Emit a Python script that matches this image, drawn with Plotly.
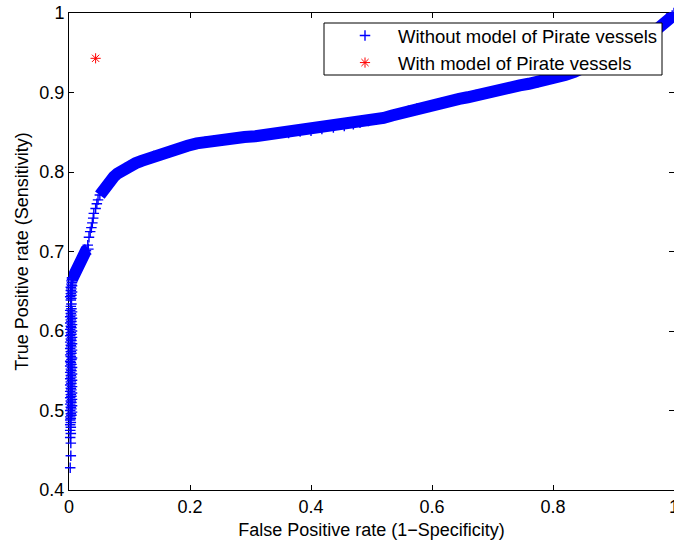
import plotly.graph_objects as go

# ---- data (False positive rate, True positive rate) ----
# sparse crosses at the bottom of the vertical part
fpr_low = [0.002, 0.003, 0.003, 0.002, 0.003, 0.002, 0.003, 0.002, 0.003, 0.002]
tpr_low = [0.428, 0.443, 0.459, 0.466, 0.471, 0.475, 0.479, 0.482, 0.485, 0.488]

# dense vertical part (points almost on top of each other)
fpr_vert = [0.003, 0.002, 0.004, 0.003, 0.005, 0.002, 0.004, 0.003, 0.005, 0.002,
            0.004, 0.003, 0.005, 0.002, 0.004, 0.003, 0.005, 0.002, 0.004, 0.003,
            0.005, 0.002, 0.004, 0.003, 0.005, 0.002, 0.004, 0.003, 0.005, 0.002,
            0.004, 0.003, 0.005, 0.002, 0.004, 0.003, 0.002, 0.004, 0.005, 0.003,
            0.002, 0.004, 0.003, 0.005, 0.002, 0.004, 0.003, 0.005, 0.002, 0.004,
            0.003, 0.005, 0.002, 0.004, 0.003, 0.005, 0.002, 0.004, 0.003, 0.005,
            0.002, 0.004, 0.003, 0.005, 0.002, 0.004, 0.003, 0.005, 0.002, 0.004]
tpr_vert = [0.490, 0.492, 0.494, 0.496, 0.498, 0.500, 0.502, 0.504, 0.506, 0.508,
            0.510, 0.512, 0.514, 0.516, 0.518, 0.520, 0.522, 0.524, 0.526, 0.528,
            0.530, 0.532, 0.534, 0.536, 0.538, 0.540, 0.542, 0.544, 0.546, 0.548,
            0.550, 0.552, 0.554, 0.556, 0.558, 0.560, 0.562, 0.564, 0.566, 0.568,
            0.570, 0.572, 0.574, 0.576, 0.578, 0.580, 0.582, 0.584, 0.586, 0.588,
            0.590, 0.592, 0.594, 0.596, 0.598, 0.600, 0.602, 0.604, 0.606, 0.608,
            0.610, 0.612, 0.614, 0.616, 0.618, 0.620, 0.622, 0.624, 0.626, 0.628]

# isolated crosses in the small gap
fpr_gap = [0.003, 0.004]
tpr_gap = [0.631, 0.634]

# dense bottom of the knee
fpr_knee_low = [0.003, 0.004, 0.002, 0.004, 0.003, 0.005, 0.003, 0.004, 0.003, 0.005,
                0.004, 0.005, 0.004, 0.006, 0.005]
tpr_knee_low = [0.639, 0.641, 0.643, 0.645, 0.647, 0.649, 0.651, 0.653, 0.655, 0.657,
                0.659, 0.661, 0.663, 0.665, 0.667]

# dense knee
fpr_knee = [0.005, 0.006, 0.008, 0.011, 0.013, 0.015, 0.017, 0.019, 0.022, 0.025,
            0.028, 0.032]
tpr_knee = [0.665, 0.667, 0.669, 0.673, 0.677, 0.681, 0.685, 0.689, 0.693, 0.697,
            0.701, 0.703]

# sparse climb
fpr_climb = [0.031, 0.033, 0.035, 0.037, 0.0386, 0.040, 0.041, 0.044, 0.046, 0.048]
tpr_climb = [0.708, 0.718, 0.725, 0.730, 0.736, 0.742, 0.748, 0.754, 0.760, 0.765]

# dense upper curve
fpr_upper = [0.051, 0.056, 0.060, 0.064, 0.069, 0.074, 0.080, 0.086, 0.093, 0.100,
             0.110, 0.120, 0.130, 0.140, 0.150, 0.160, 0.170, 0.183, 0.196, 0.211,
             0.225, 0.240, 0.255, 0.272, 0.290, 0.308, 0.327, 0.345, 0.363, 0.382,
             0.400, 0.418, 0.437, 0.455, 0.470, 0.481, 0.495, 0.508, 0.520, 0.534,
             0.548, 0.561, 0.575, 0.589, 0.603, 0.617, 0.631, 0.645, 0.659, 0.673,
             0.686, 0.700, 0.715, 0.730, 0.745, 0.760, 0.775, 0.790, 0.805, 0.820,
             0.835, 0.850, 0.865, 0.880, 0.895, 0.910, 0.925, 0.940, 0.950, 0.960,
             0.968, 0.975, 0.980, 0.985, 0.989, 0.993, 0.997, 1.000]
tpr_upper = [0.771, 0.777, 0.782, 0.786, 0.790, 0.794, 0.798, 0.801, 0.805, 0.808,
             0.811, 0.814, 0.817, 0.820, 0.822, 0.825, 0.827, 0.830, 0.833, 0.836,
             0.838, 0.840, 0.841, 0.842, 0.844, 0.845, 0.847, 0.848, 0.849, 0.851,
             0.852, 0.854, 0.856, 0.858, 0.860, 0.862, 0.864, 0.866, 0.868, 0.871,
             0.874, 0.877, 0.880, 0.881, 0.884, 0.887, 0.890, 0.892, 0.894, 0.897,
             0.899, 0.901, 0.904, 0.906, 0.909, 0.911, 0.913, 0.916, 0.919, 0.922,
             0.926, 0.931, 0.936, 0.941, 0.946, 0.953, 0.957, 0.962, 0.967, 0.972,
             0.976, 0.980, 0.984, 0.987, 0.990, 0.993, 0.997, 1.000]

# single operating point with the pirate model
fpr_pirate = [0.044]
tpr_pirate = [0.943]

x_ticks = [0, 0.2, 0.4, 0.6, 0.8, 1]
x_tick_text = ["0", "0.2", "0.4", "0.6", "0.8", "1"]
y_ticks = [0.4, 0.5, 0.6, 0.7, 0.8, 0.9, 1]
y_tick_text = ["0.4", "0.5", "0.6", "0.7", "0.8", "0.9", "1"]

BLUE = "#0000FF"
RED = "#FF0000"
FONT = "Liberation Sans, Arial, Helvetica, sans-serif"

fig = go.Figure()

# solid band under the densely packed crosses of the curved part
for fx, fy in [(fpr_knee, tpr_knee), (fpr_upper, tpr_upper)]:
    fig.add_trace(go.Scatter(x=fx, y=fy, mode="lines",
                             line=dict(color=BLUE, width=12),
                             showlegend=False, hoverinfo="skip"))

all_fpr = fpr_low + fpr_vert + fpr_gap + fpr_knee_low + fpr_knee + fpr_climb + fpr_upper
all_tpr = tpr_low + tpr_vert + tpr_gap + tpr_knee_low + tpr_knee + tpr_climb + tpr_upper

fig.add_trace(go.Scatter(
    x=all_fpr, y=all_tpr, mode="markers",
    name="Without model of Pirate vessels",
    marker=dict(symbol="cross-thin", size=7.5, color=BLUE,
                line=dict(color=BLUE, width=1.4)),
    cliponaxis=False))

fig.add_trace(go.Scatter(
    x=fpr_pirate, y=tpr_pirate, mode="markers",
    name="With model of Pirate vessels",
    marker=dict(symbol="asterisk", size=8.5, color=RED,
                line=dict(color=RED, width=1)),
    cliponaxis=False))

axis_common = dict(
    showline=True, linecolor="black", linewidth=1, mirror="ticks",
    ticks="inside", ticklen=5, tickcolor="black", tickwidth=1,
    showgrid=False, zeroline=False, automargin=False,
    tickfont=dict(family=FONT, size=18, color="black"),
    layer="below traces",
)

fig.update_layout(
    width=674, height=540,
    margin=dict(l=69, r=0, t=13, b=50),
    paper_bgcolor="white", plot_bgcolor="white",
    font=dict(family=FONT, size=18, color="black"),
    xaxis=dict(range=[0, 1], tickvals=x_ticks, ticktext=x_tick_text,
               ticklabeloverflow="allow",
               title=dict(text="False Positive rate (1\u2212Specificity)",
                          font=dict(family=FONT, size=18, color="black"),
                          standoff=7),
               **axis_common),
    yaxis=dict(range=[0.4, 1], tickvals=y_ticks, ticktext=y_tick_text,
               ticklabeloverflow="allow",
               title=dict(text="True Positive rate (Sensitivity)",
                          font=dict(family=FONT, size=18, color="black"),
                          standoff=6),
               **axis_common),
    legend=dict(x=(332 - 69) / 605, y=(490 - 17) / 477, xanchor="left", yanchor="top",
                bgcolor="rgba(0,0,0,0)", borderwidth=0,
                font=dict(family=FONT, size=18.5, color="black"),
                itemwidth=56),
    shapes=[dict(type="rect", xref="paper", yref="paper",
                 x0=(324 - 69) / 605, x1=(662 - 69) / 605,
                 y0=(490 - 75) / 477, y1=(490 - 23) / 477,
                 fillcolor="white", line=dict(color="black", width=1),
                 layer="above")],
)

fig.write_html("out.html")
